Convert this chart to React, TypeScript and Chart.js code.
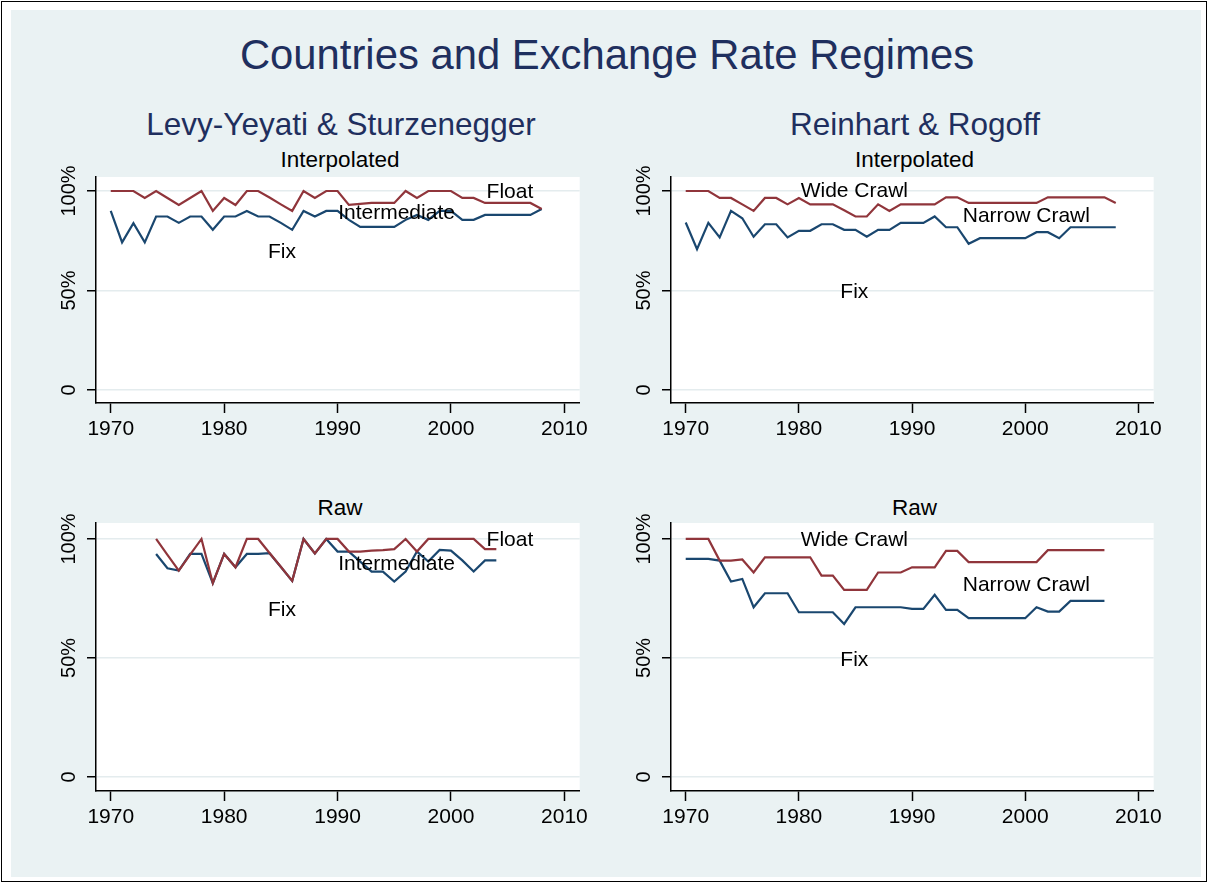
import React, { useEffect, useRef } from 'react';
import { Chart, registerables } from 'chart.js';

Chart.register(...registerables);

const FONT = '"Liberation Sans", Arial, Helvetica, sans-serif';
const NAVY = '#1A476F';
const MAROON = '#90353B';
const GRID = '#E4ECEE';
const TITLE_COLOR = '#1F2F5E';

// ---------------- data ----------------
const yearsFull = [
  1970, 1971, 1972, 1973, 1974, 1975, 1976, 1977, 1978, 1979,
  1980, 1981, 1982, 1983, 1984, 1985, 1986, 1987, 1988, 1989,
  1990, 1991, 1992, 1993, 1994, 1995, 1996, 1997, 1998, 1999,
  2000, 2001, 2002, 2003, 2004, 2005, 2006, 2007, 2008,
];
const yearsLysRaw = [
  1974, 1975, 1976, 1977, 1978, 1979,
  1980, 1981, 1982, 1983, 1984, 1985, 1986, 1987, 1988, 1989,
  1990, 1991, 1992, 1993, 1994, 1995, 1996, 1997, 1998, 1999,
  2000, 2001, 2002, 2003, 2004,
];
const yearsRrRaw = [
  1970, 1971, 1972, 1973, 1974, 1975, 1976, 1977, 1978, 1979,
  1980, 1981, 1982, 1983, 1984, 1985, 1986, 1987, 1988, 1989,
  1990, 1991, 1992, 1993, 1994, 1995, 1996, 1997, 1998, 1999,
  2000, 2001, 2002, 2003, 2004, 2005, 2006, 2007,
];

// Levy-Yeyati & Sturzenegger, interpolated
const lysInterpUpper = [
  100, 100, 100, 96.5, 100, 96.5, 93, 96.5, 100, 90,
  96.5, 93, 100, 100, 96.7, 93.3, 90, 100, 96.5, 100,
  100, 93, 93.5, 94, 94, 94, 100, 96.5, 100, 100,
  100, 96.5, 96.5, 94, 94, 94, 94, 94, 91,
];
const lysInterpFix = [
  90, 74.2, 83.8, 74.2, 87.2, 87.2, 84, 87.2, 87.2, 80.5,
  87.2, 87.2, 90, 87.2, 87.2, 84, 80.5, 90, 87.2, 90,
  90, 85.5, 82, 82, 82, 82, 85.5, 88, 85.5, 90,
  90, 85.5, 85.5, 88, 88, 88, 88, 88, 91,
];

// Reinhart & Rogoff, interpolated
const rrInterpUpper = [
  100, 100, 100, 96.5, 96.5, 93.3, 90, 96.5, 96.5, 93.3,
  96.5, 93.3, 93.3, 93.3, 90.3, 87.2, 87.2, 93.3, 90, 93.3,
  93.3, 93.3, 93.3, 96.8, 96.8, 94, 94, 94, 94, 94,
  94, 94, 96.8, 96.8, 96.8, 96.8, 96.8, 96.8, 94,
];
const rrInterpFix = [
  84.2, 70.8, 84, 76.7, 90, 86.3, 77, 83.3, 83.3, 76.7,
  80, 80, 83.3, 83.3, 80.5, 80.5, 77, 80.5, 80.5, 84,
  84, 84, 87.2, 81.8, 81.8, 73.5, 76.3, 76.3, 76.3, 76.3,
  76.3, 79.3, 79.3, 76.3, 81.8, 81.8, 81.8, 81.8, 81.8,
];

// Levy-Yeyati & Sturzenegger, raw
const lysRawUpper = [
  100, 93.3, 86.7, 93.4, 100, 81.4,
  93.7, 88.1, 100, 100, 94.1, 88.3, 82.4, 100, 93.9, 100,
  100, 94.7, 94.7, 95.1, 95.3, 95.7, 100, 94.7, 100, 100,
  100, 100, 100, 95.7, 95.7,
];
const lysRawFix = [
  93.7, 87.7, 86.7, 93.7, 93.7, 81.4,
  93.7, 88.1, 93.7, 93.7, 94, 88.2, 82.4, 100, 93.9, 100,
  94.7, 94.7, 90.5, 86.3, 86.3, 82.1, 86.3, 94.7, 90.5, 95.4,
  95.1, 91, 86.3, 91, 91,
];

// Reinhart & Rogoff, raw
const rrRawUpper = [
  100, 100, 100, 90.9, 90.9, 91.4, 85.9, 92.3, 92.3, 92.3,
  92.3, 92.3, 84.6, 84.6, 78.6, 78.6, 78.6, 85.9, 85.9, 85.9,
  88.1, 88.1, 88.1, 95, 95, 90.3, 90.3, 90.3, 90.3, 90.3,
  90.3, 90.3, 95.3, 95.3, 95.3, 95.3, 95.3, 95.3,
];
const rrRawFix = [
  91.6, 91.6, 91.6, 90.9, 82.1, 83.2, 71.3, 77.2, 77.2, 77.2,
  69.2, 69.2, 69.2, 69.2, 64.3, 71.3, 71.3, 71.3, 71.3, 71.3,
  70.6, 70.6, 76.5, 70.2, 70.2, 66.7, 66.7, 66.7, 66.7, 66.7,
  66.7, 71.3, 69.5, 69.5, 74, 74, 74, 74,
];

const xTicks = [1970, 1980, 1990, 2000, 2010];
const yTicks = [0, 50, 100];
const yTickLabels = ['0', '50%', '100%'];

const lysLabelsInterp = [
  { text: 'Fix', x: 1985.1, y: 69.3 },
  { text: 'Intermediate', x: 1995.2, y: 88.9 },
  { text: 'Float', x: 2005.2, y: 99.5 },
];
const rrLabelsInterp = [
  { text: 'Wide Crawl', x: 1984.9, y: 100 },
  { text: 'Narrow Crawl', x: 2000.1, y: 87.4 },
  { text: 'Fix', x: 1984.9, y: 49.2 },
];
const lysLabelsRaw = [
  { text: 'Fix', x: 1985.1, y: 70.2 },
  { text: 'Intermediate', x: 1995.2, y: 89.5 },
  { text: 'Float', x: 2005.2, y: 99.6 },
];
const rrLabelsRaw = [
  { text: 'Wide Crawl', x: 1984.9, y: 99.6 },
  { text: 'Narrow Crawl', x: 2000.1, y: 80.7 },
  { text: 'Fix', x: 1984.9, y: 49.2 },
];

// ---------------- layout ----------------
const AXIS_W = 80;
const AXIS_H = 50;
const PAD_T = 30;
const PAD_R = 8;
const X_MIN = 1968.7;
const X_MAX = 2011.35;

type Lbl = { text: string; x: number; y: number };
type Panel = {
  left: number; top: number; right: number; bottom: number;
  yMin: number; yMax: number;
  title: string; titleY: number;
  years: number[]; upper: number[]; lower: number[];
  labels: Lbl[];
};

const panels: Panel[] = [
  { left: 96, top: 177, right: 584, bottom: 403, yMin: -6.53, yMax: 107.04, title: 'Interpolated', titleY: 160,
    years: yearsFull, upper: lysInterpUpper, lower: lysInterpFix, labels: lysLabelsInterp },
  { left: 671, top: 177, right: 1158, bottom: 403, yMin: -6.53, yMax: 107.04, title: 'Interpolated', titleY: 160,
    years: yearsFull, upper: rrInterpUpper, lower: rrInterpFix, labels: rrLabelsInterp },
  { left: 96, top: 523, right: 584, bottom: 791, yMin: -5.88, yMax: 106.7, title: 'Raw', titleY: 508,
    years: yearsLysRaw, upper: lysRawUpper, lower: lysRawFix, labels: lysLabelsRaw },
  { left: 671, top: 523, right: 1158, bottom: 791, yMin: -5.88, yMax: 106.7, title: 'Raw', titleY: 508,
    years: yearsRrRaw, upper: rrRawUpper, lower: rrRawFix, labels: rrLabelsRaw },
];

const plotBgPlugin = {
  id: 'plotBg',
  beforeDraw(chart: any) {
    const { ctx, chartArea } = chart;
    ctx.save();
    ctx.fillStyle = '#FFFFFF';
    ctx.fillRect(chartArea.left, chartArea.top, chartArea.right - chartArea.left, chartArea.bottom - chartArea.top);
    ctx.restore();
  },
};

const textLabelPlugin = {
  id: 'textLabels',
  afterDatasetsDraw(chart: any, _args: any, opts: any) {
    const { ctx, scales } = chart;
    const items: Lbl[] = opts.items || [];
    ctx.save();
    ctx.font = `21px ${FONT}`;
    ctx.fillStyle = '#000';
    ctx.textAlign = 'center';
    ctx.textBaseline = 'middle';
    items.forEach((l) => {
      ctx.fillText(l.text, scales.x.getPixelForValue(l.x), scales.y.getPixelForValue(l.y));
    });
    ctx.restore();
  },
};

function PanelChart({ p }: { p: Panel }) {
  const ref = useRef<HTMLCanvasElement | null>(null);
  const w = p.right - p.left + AXIS_W + PAD_R;
  const h = p.bottom - p.top + PAD_T + AXIS_H;
  useEffect(() => {
    if (!ref.current) return;
    const chart = new Chart(ref.current, {
      type: 'line',
      data: {
        datasets: [
          {
            data: p.years.map((yr, i) => ({ x: yr, y: p.upper[i] })),
            borderColor: MAROON, borderWidth: 2.2, pointRadius: 0, tension: 0, fill: false, spanGaps: true,
          },
          {
            data: p.years.map((yr, i) => ({ x: yr, y: p.lower[i] })),
            borderColor: NAVY, borderWidth: 2.2, pointRadius: 0, tension: 0, fill: false, spanGaps: true,
          },
        ],
      },
      options: {
        animation: false,
        responsive: false,
        maintainAspectRatio: false,
        devicePixelRatio: 1,
        layout: { padding: { top: PAD_T, right: PAD_R, left: 0, bottom: 0 } },
        plugins: {
          legend: { display: false },
          title: { display: false },
          tooltip: { enabled: false },
          textLabels: { items: p.labels },
        } as any,
        scales: {
          x: {
            type: 'linear',
            min: X_MIN,
            max: X_MAX,
            afterBuildTicks: (s: any) => { s.ticks = xTicks.map((v) => ({ value: v })); },
            afterFit: (s: any) => { s.height = AXIS_H; },
            grid: { drawOnChartArea: false, tickLength: 10, tickColor: '#000', tickWidth: 1.5 },
            border: { color: '#000', width: 1.5 },
            ticks: {
              font: { family: FONT, size: 21 }, color: '#000', padding: 4,
              minRotation: 0, maxRotation: 0, autoSkip: false,
              callback: (v: any) => String(v),
            },
          },
          y: {
            type: 'linear',
            min: p.yMin,
            max: p.yMax,
            afterBuildTicks: (s: any) => { s.ticks = yTicks.map((v) => ({ value: v })); },
            afterFit: (s: any) => { s.width = AXIS_W; },
            grid: { color: GRID, lineWidth: 1.5, tickColor: '#000', tickLength: 9, tickWidth: 1.5 },
            border: { color: '#000', width: 1.5 },
            ticks: {
              font: { family: FONT, size: 20 }, color: '#000',
              minRotation: 90, maxRotation: 90, crossAlign: 'center', padding: -8,
              autoSkip: false,
              callback: (v: any) => {
                const i = yTicks.indexOf(Number(v));
                return i >= 0 ? yTickLabels[i] : '';
              },
            },
          },
        },
      } as any,
      plugins: [plotBgPlugin, textLabelPlugin],
    });
    return () => chart.destroy();
  }, [p]);
  return (
    <canvas
      ref={ref}
      width={w}
      height={h}
      style={{ position: 'absolute', left: p.left - AXIS_W, top: p.top - PAD_T, width: w, height: h }}
    />
  );
}

function Txt({ text, cx, cy, size, color }: { text: string; cx: number; cy: number; size: number; color: string }) {
  return (
    <div
      style={{
        position: 'absolute', left: cx, top: cy, transform: 'translate(-50%, -50%)',
        fontFamily: FONT, fontSize: size, lineHeight: 1, color, whiteSpace: 'nowrap',
      }}
    >
      {text}
    </div>
  );
}

export default function App() {
  return (
    <div style={{ position: 'absolute', left: 0, top: 0, width: 1209, height: 884, background: '#FFFFFF', overflow: 'hidden' }}>
      <div style={{ position: 'absolute', left: 1, top: 1, width: 1206, height: 881, border: '1px solid #000', boxSizing: 'border-box' }} />
      <div style={{ position: 'absolute', left: 11, top: 10, width: 1190, height: 867, background: '#EAF2F3' }} />
      <Txt text="Countries and Exchange Rate Regimes" cx={607} cy={55} size={41.8} color={TITLE_COLOR} />
      <Txt text="Levy-Yeyati & Sturzenegger" cx={341} cy={125} size={31.5} color={TITLE_COLOR} />
      <Txt text="Reinhart & Rogoff" cx={915} cy={125} size={31.5} color={TITLE_COLOR} />
      {panels.map((p, i) => (
        <React.Fragment key={i}>
          <Txt text={p.title} cx={(p.left + p.right) / 2} cy={p.titleY} size={22.5} color="#000" />
          <PanelChart p={p} />
        </React.Fragment>
      ))}
    </div>
  );
}
